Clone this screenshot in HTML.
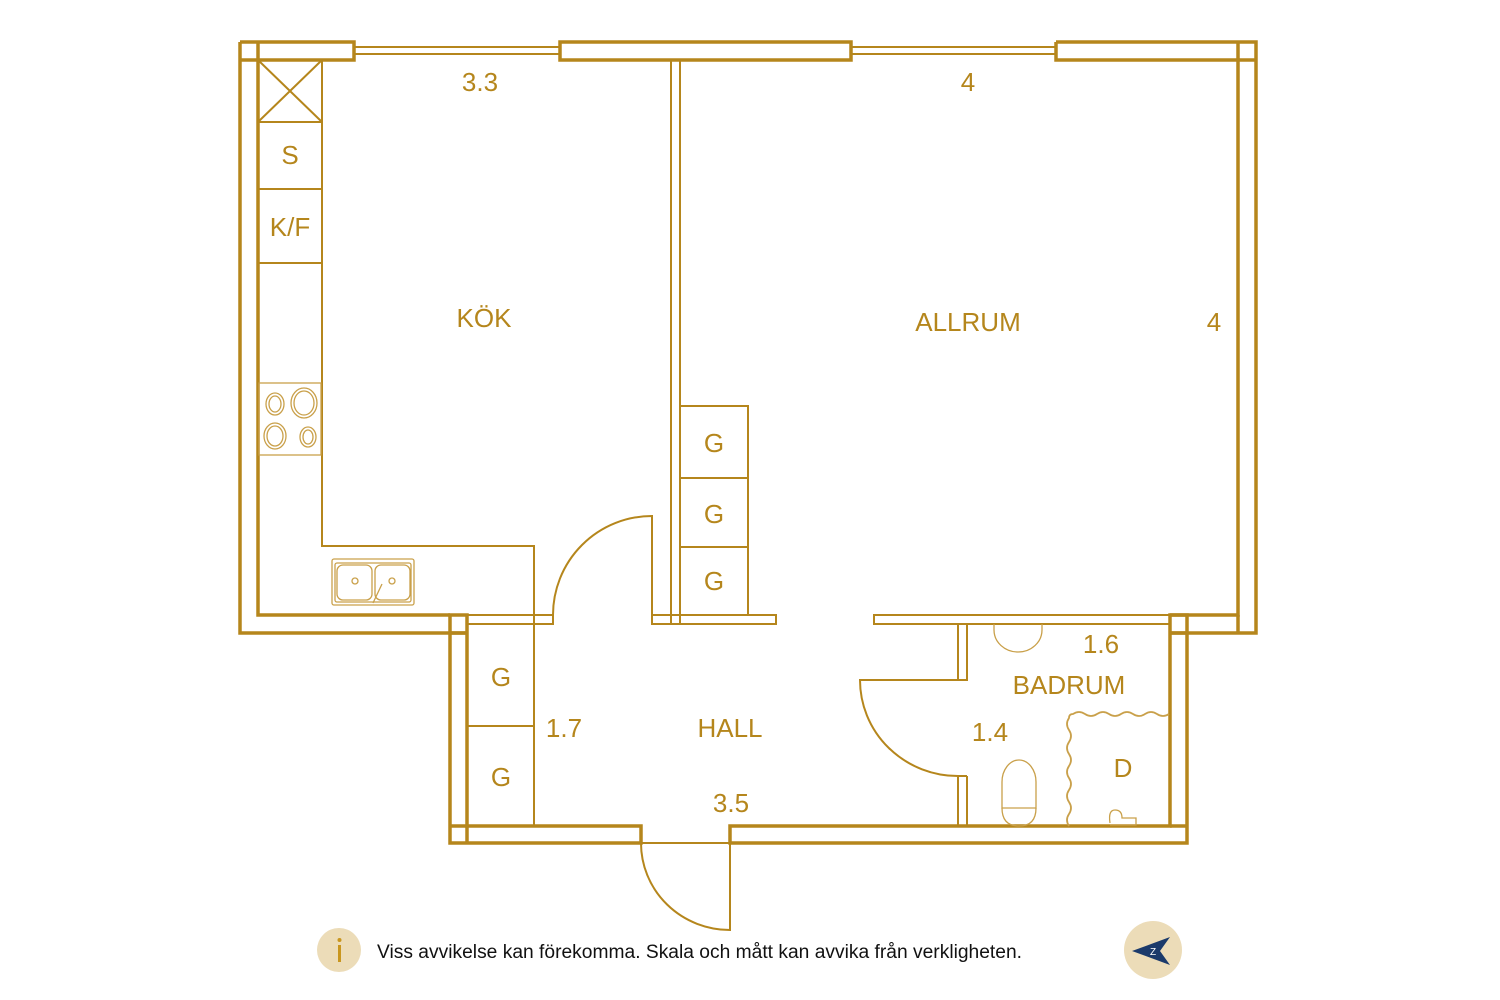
<!DOCTYPE html>
<html><head><meta charset="utf-8"><style>
html,body{margin:0;padding:0;background:#fff;}
svg{display:block}
text{font-family:"Liberation Sans","DejaVu Sans",sans-serif;fill:#b5861c}
</style></head><body>
<svg width="1500" height="1000" viewBox="0 0 1500 1000" xmlns="http://www.w3.org/2000/svg">
<g fill="none" stroke="#b5861c" stroke-width="3.5">
<path d="M240 42 H354 V60 H258 M240 42 V633 H467 M258 60 V615 H450"/>
<path d="M560 42 H851 V60 H560 Z"/>
<path d="M1056 42 H1256 V633 H1170 M1056 42 V60 H1238 V615 H1170"/>
<line x1="240" y1="60" x2="258" y2="60"/><line x1="258" y1="42" x2="258" y2="60"/>
<line x1="1238" y1="42" x2="1238" y2="60"/><line x1="1238" y1="60" x2="1256" y2="60"/>
<line x1="1238" y1="615" x2="1238" y2="633"/>
<path d="M450 615 H467 V826 H641 V843 H450 Z"/>
<line x1="450" y1="633" x2="467" y2="633"/>
<line x1="450" y1="826" x2="467" y2="826"/><line x1="467" y1="826" x2="467" y2="843"/>
<path d="M730 843 V826 H1170 V615 H1187 V843 Z"/>
<line x1="1170" y1="633" x2="1187" y2="633"/>
<line x1="1170" y1="826" x2="1187" y2="826"/>
</g>
<g fill="none" stroke="#b5861c" stroke-width="2">
<path d="M354 47 H560 M354 54 H560 M851 47 H1056 M851 54 H1056"/>
<path d="M671 60 V624 M680 60 V624"/>
<path d="M467 615 H553 V624 H467 M652 615 H776 V624 H652 Z M874 615 H1170 V624 H874 Z"/>
<path d="M553 615 A99 99 0 0 1 652 516 V615"/>
<path d="M322 60 V546 H534 V826"/>
<path d="M258 122 H322 M258 189 H322 M258 263 H322"/>
<path d="M258 60 L322 122 M322 60 L258 122"/>
<path d="M680 406 H748 V615 M680 478 H748 M680 547 H748"/>
<path d="M467 726 H534"/>
<path d="M958 624 V680 H860 A98 96 0 0 0 958 776 V826 M967 624 V680 H958 M967 776 H958 M967 776 V826"/>
<path d="M641 843 H730 M641 843 A89 87 0 0 0 730 930 V843"/>
</g>
<g fill="none" stroke="#c9a04a" stroke-width="1.3">
<rect x="259" y="383" width="62" height="72"/>
<ellipse cx="275" cy="404" rx="9" ry="11"/><ellipse cx="275" cy="404" rx="6" ry="8"/>
<ellipse cx="304" cy="403" rx="13" ry="15"/><ellipse cx="304" cy="403" rx="10" ry="12"/>
<ellipse cx="275" cy="436" rx="11" ry="13"/><ellipse cx="275" cy="436" rx="8" ry="10"/>
<ellipse cx="308" cy="437" rx="8" ry="10"/><ellipse cx="308" cy="437" rx="5" ry="7"/>
<rect x="332" y="559" width="82" height="46" rx="2"/>
<rect x="335" y="563" width="76" height="39" rx="2"/>
<rect x="337" y="565" width="35" height="35" rx="6"/>
<rect x="375" y="565" width="35" height="35" rx="6"/>
<circle cx="355" cy="581" r="3"/><circle cx="392" cy="581" r="3"/>
<path d="M373 603 L382 584"/>
<path d="M994 624 V630 A24 22 0 0 0 1042 630 V624"/>
<path d="M1002 808 V782 A17 22 0 0 1 1036 782 V808 Z"/>
<path d="M1002 808 Q1002 826 1019 826 Q1036 826 1036 808"/>
<path d="M1110 823 Q1108 810 1115 810 Q1122 810 1122 818 H1136 V825 H1110"/>
<path d="M1069 826 q-4 -6 0 -12 t0 -12 t0 -12 t0 -12 t0 -12 t0 -12 t0 -12 t0 -12 t0 -12 q0 -4 4 -4 q6 -4 12 0 t12 0 t12 0 t12 0 t12 0 t12 0 t12 0 t12 0" stroke-width="1.8"/>
</g>
<g font-size="26" text-anchor="middle">
<text x="480" y="91">3.3</text>
<text x="968" y="91">4</text>
<text x="290" y="164">S</text>
<text x="290" y="236">K/F</text>
<text x="484" y="327">KÖK</text>
<text x="968" y="331">ALLRUM</text>
<text x="1214" y="331">4</text>
<text x="714" y="452">G</text>
<text x="714" y="523">G</text>
<text x="714" y="590">G</text>
<text x="501" y="686">G</text>
<text x="501" y="786">G</text>
<text x="564" y="737">1.7</text>
<text x="730" y="737">HALL</text>
<text x="731" y="812">3.5</text>
<text x="1101" y="653">1.6</text>
<text x="1069" y="694">BADRUM</text>
<text x="990" y="741">1.4</text>
<text x="1123" y="777">D</text>
</g>
<circle cx="339" cy="950" r="22" fill="#ecdcb8"/>
<rect x="338" y="945" width="3" height="17" fill="#c9961e"/>
<circle cx="339.5" cy="940" r="2" fill="#c9961e"/>
<text x="377" y="958" font-size="19" style="fill:#111" textLength="645" lengthAdjust="spacingAndGlyphs">Viss avvikelse kan förekomma. Skala och mått kan avvika från verkligheten.</text>
<circle cx="1153" cy="950" r="29" fill="#ecdcb8"/>
<path d="M1132 951 L1170 937 L1160 951 L1170 965 Z" fill="#1b3a6b"/>
<text x="1153" y="955" font-size="10" text-anchor="middle" style="fill:#fff">Z</text>
</svg>
</body></html>
